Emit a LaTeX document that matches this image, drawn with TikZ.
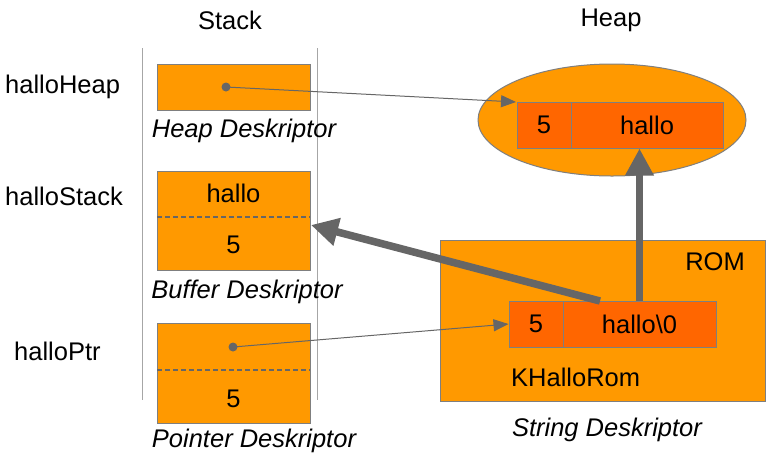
\documentclass[tikz,border=0pt]{standalone}
\usepackage{fontspec}
\setmainfont{Liberation Sans}
\usetikzlibrary{arrows.meta,shapes.geometric}
\definecolor{orangefill}{HTML}{FF9900}
\definecolor{darkorange}{HTML}{FF6600}
\definecolor{edgegray}{HTML}{7F7F7F}
\definecolor{arrowgray}{HTML}{666666}
\definecolor{rulegray}{HTML}{A6A6A6}
\begin{document}
\begin{tikzpicture}[x=1pt,y=-1pt,
  every node/.style={font=\fontsize{25.5}{28}\selectfont, inner sep=0pt},
  desc/.style={draw=edgegray, fill=orangefill, line width=1pt, rectangle},
  cell/.style={draw=edgegray, fill=darkorange, line width=1pt, rectangle, minimum height=46pt},
  caption/.style={font=\fontsize{25.5}{28}\selectfont\itshape},
  thinarrow/.style={draw=arrowgray, line width=1pt, -{Triangle[length=15pt,width=12pt]}},
  thickarrow/.style={draw=arrowgray, line width=7.5pt, -{Triangle[length=27pt,width=27pt]}},
  divider/.style={draw=arrowgray, line width=1.4pt, dash pattern=on 5pt off 3pt},
  dot/.style={circle, fill=arrowgray, minimum size=9pt}]
\useasboundingbox (0,0) rectangle (767,456);

% stack frame
\draw[rulegray, line width=1pt] (142,48) -- (142,400);
\draw[rulegray, line width=1pt] (317,48) -- (317,400);

% headings
\node (stackhead) at (230,20) {Stack};
\node (heaphead) at (611,20) {Heap};

% variable names
\node[anchor=west] (nheap) at (5,87) {halloHeap};
\node[anchor=west] (nstack) at (5,196) {halloStack};
\node[anchor=west] (nptr) at (14,351) {halloPtr};

% stack descriptors
\node[desc, minimum width=153pt, minimum height=46pt] (heapdesc) at (233.5,87) {};
\node[dot] (heapdot) at (226,87) {};
\node[caption] (heapcap) at (244,131) {Heap Deskriptor};

\node[desc, minimum width=153pt, minimum height=99pt] (bufdesc) at (233.5,220.5) {};
\draw[divider] (157,217) -- (310,217);
\node (buftext) at (233.5,193) {hallo};
\node (buflen) at (233.5,245) {5};
\node[caption] (bufcap) at (247,292) {Buffer Deskriptor};

\node[desc, minimum width=153pt, minimum height=100pt] (ptrdesc) at (233.5,373.5) {};
\draw[divider] (157,370) -- (310,370);
\node[dot] (ptrdot) at (233,347) {};
\node (ptrlen) at (233.5,399) {5};
\node[caption] (ptrcap) at (254,441) {Pointer Deskriptor};

% heap
\node[ellipse, draw=edgegray, fill=orangefill, line width=1pt, minimum width=268pt, minimum height=112pt] (heapell) at (612,120) {};
\node[cell, minimum width=54pt] (heaplen) at (544,125) {5};
\node[cell, minimum width=152pt] (heapdata) at (647,125) {hallo};

% ROM
\node[desc, minimum width=325pt, minimum height=161pt] (rom) at (602.5,320.5) {};
\node (romlabel) at (715,262) {ROM};
\node[cell, minimum width=54pt] (romlen) at (536,324) {5};
\node[cell, minimum width=153pt] (romdata) at (639.5,324) {hallo\textbackslash 0};
\node[anchor=west] (kname) at (511,377) {KHalloRom};
\node[caption] (strcap) at (607,430) {String Deskriptor};

% connectors
\coordinate (heaptip) at (516,102);
\draw[thinarrow] (heapdot.center) -- (heaptip);
\draw[thinarrow] (ptrdot.center) -- (romlen.west);
\draw[thickarrow] (romdata.north) -- (romdata.north |- heapdata.south);
\coordinate (buftail) at (600,301);
\coordinate (buftip) at (311,225);
\draw[thickarrow] (buftail) -- (buftip);
\end{tikzpicture}
\end{document}
